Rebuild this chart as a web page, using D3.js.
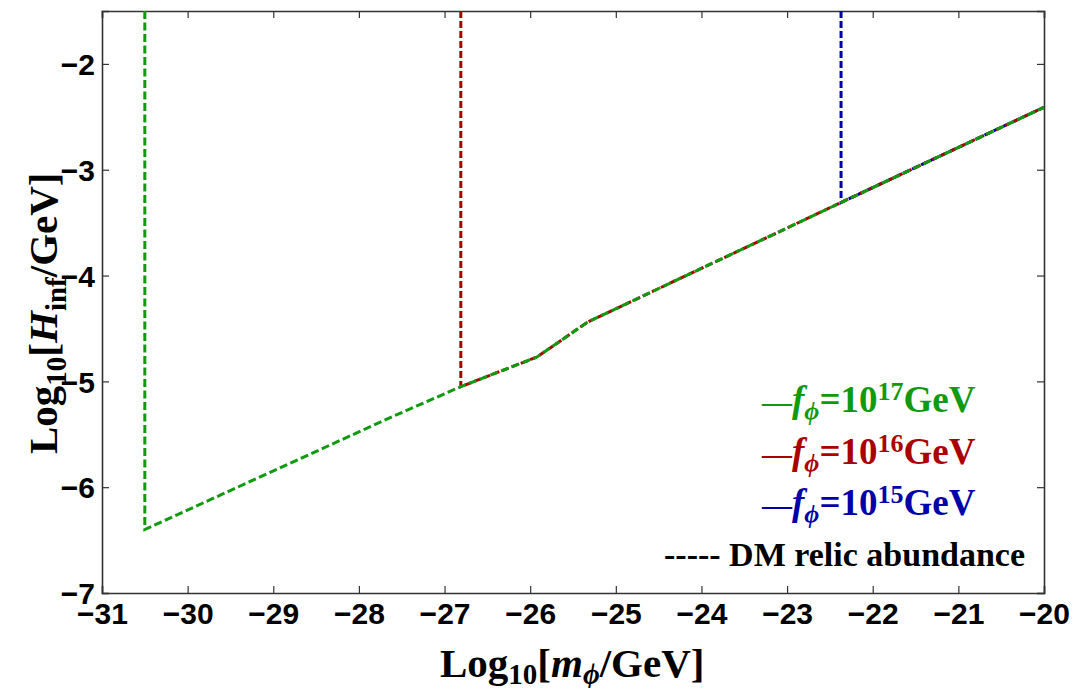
<!DOCTYPE html>
<html>
<head>
<meta charset="utf-8">
<script src="https://cdn.jsdelivr.net/npm/d3@7"></script>
<style>
  body { margin: 0; background: #fff; }
  svg { display: block; }
</style>
</head>
<body>
<script>
// Chart values (log10 units)
var xTicks = [-31, -30, -29, -28, -27, -26, -25, -24, -23, -22, -21, -20];
var yTicks = [-7, -6, -5, -4, -3, -2];

// f = 10^17 GeV : vertical cut, then the DM relic abundance curve
var greenX = [-30.5, -30.5, -27.6, -26.81, -25.92, -25.33, -22.37, -20];
var greenY = [-1.5, -6.40, -5.33, -5.05, -4.77, -4.44, -3.31, -2.41];
// f = 10^16 GeV
var redX = [-26.81, -26.81, -25.92, -25.33, -22.37, -20];
var redY = [-1.5, -5.05, -4.77, -4.44, -3.31, -2.41];
// f = 10^15 GeV
var blueX = [-22.37, -22.37, -20];
var blueY = [-1.5, -3.31, -2.41];

var legendExp = ["17", "16", "15"];
var legendColors = ["#109a10", "#aa0000", "#0000aa"];

var W = 1072, H = 688;
var margin = {left: 102, right: 28, top: 11, bottom: 95};

var svg = d3.select('body').append('svg')
    .attr('width', W)
    .attr('height', H);

var x = d3.scaleLinear().domain([-31, -20]).range([margin.left, W - margin.right]);
var y = d3.scaleLinear().domain([-7, -1.5]).range([H - margin.bottom, margin.top]);

var tickFont = '"Liberation Sans", Arial, sans-serif';
var serif = '"Liberation Serif", "Times New Roman", serif';
var fmt = d3.format('d');

// Axes, ticks pointing inward, mirrored on top and right
var axBottom = svg.append('g')
    .attr('transform', 'translate(0,' + y(-7) + ')')
    .call(d3.axisBottom(x).tickValues(xTicks).tickSize(-7).tickPadding(8).tickFormat(fmt));
var axTop = svg.append('g')
    .attr('transform', 'translate(0,' + y(-1.5) + ')')
    .call(d3.axisTop(x).tickValues(xTicks).tickSize(-7).tickFormat(''));
var axLeft = svg.append('g')
    .attr('transform', 'translate(' + x(-31) + ',0)')
    .call(d3.axisLeft(y).tickValues(yTicks).tickSize(-7).tickPadding(7).tickFormat(fmt));
var axRight = svg.append('g')
    .attr('transform', 'translate(' + x(-20) + ',0)')
    .call(d3.axisRight(y).tickValues(yTicks).tickSize(-7).tickFormat(''));

[axBottom, axTop, axLeft, axRight].forEach(function(g){
    g.select('.domain').attr('stroke', '#333').attr('stroke-width', 1.6);
    g.selectAll('.tick line').attr('stroke', '#333').attr('stroke-width', 1.2);
    g.selectAll('.tick text')
        .attr('fill', '#000')
        .style('font-family', tickFont)
        .style('font-weight', 'bold')
        .style('font-size', '30px');
});
axBottom.selectAll('.tick text').attr('dy', '0.75em');
axLeft.selectAll('.tick text').attr('dy', '0.36em');

// Curves
var line = d3.line()
    .x(function(d){ return x(d[0]); })
    .y(function(d){ return y(d[1]); });

function pairs(xs, ys){
    return xs.map(function(v, i){ return [v, ys[i]]; });
}

var curves = [
    {pts: pairs(blueX, blueY), color: legendColors[2], dash: '7,3'},
    {pts: pairs(redX, redY), color: legendColors[1], dash: '7,3'},
    {pts: pairs(greenX, greenY), color: legendColors[0], dash: '8,3.5'}
];

svg.selectAll('path.curve')
    .data(curves)
    .enter().append('path')
    .attr('class', 'curve')
    .attr('d', function(d){ return line(d.pts); })
    .attr('fill', 'none')
    .attr('stroke', function(d){ return d.color; })
    .attr('stroke-width', 3)
    .attr('stroke-dasharray', function(d){ return d.dash; });

// Legend
var legend = svg.append('g')
    .style('font-family', serif)
    .style('font-weight', 'bold')
    .style('font-size', '37px');

legendExp.forEach(function(e, i){
    var t = legend.append('text')
        .attr('x', 762)
        .attr('y', 412 + i * 51.5)
        .attr('fill', legendColors[i]);
    t.append('tspan').style('font-size', '30px').text('\u2014');
    t.append('tspan').style('font-style', 'italic').text('f');
    t.append('tspan').style('font-style', 'italic').style('font-size', '26px').attr('dy', 8).text('\u03d5');
    t.append('tspan').attr('dy', -8).text('=10');
    t.append('tspan').style('font-size', '26px').attr('dy', -12).text(e);
    t.append('tspan').attr('dy', 12).text('GeV');
});

legend.append('text')
    .attr('x', 664)
    .attr('y', 566)
    .attr('fill', '#000')
    .style('font-size', '34px')
    .text('----- DM relic abundance');

// Axis titles
var xt = svg.append('text')
    .attr('x', 440)
    .attr('y', 677)
    .style('font-family', serif)
    .style('font-weight', 'bold')
    .style('font-size', '41px');
xt.append('tspan').text('Log');
xt.append('tspan').style('font-size', '29px').attr('dy', 7).text('10');
xt.append('tspan').attr('dy', -7).text('[');
xt.append('tspan').style('font-style', 'italic').text('m');
xt.append('tspan').style('font-style', 'italic').style('font-size', '29px').attr('dy', 7).text('\u03d5');
xt.append('tspan').attr('dy', -7).text('/GeV]');

var yt = svg.append('text')
    .attr('transform', 'translate(57,' + 454 + ') rotate(-90)')
    .style('font-family', serif)
    .style('font-weight', 'bold')
    .style('font-size', '41px');
yt.append('tspan').text('Log');
yt.append('tspan').style('font-size', '29px').attr('dy', 9).text('10');
yt.append('tspan').attr('dy', -9).text('[');
yt.append('tspan').style('font-style', 'italic').text('H');
yt.append('tspan').style('font-size', '29px').attr('dy', 9).text('inf');
yt.append('tspan').attr('dy', -9).text('/GeV]');
</script>
</body>
</html>
